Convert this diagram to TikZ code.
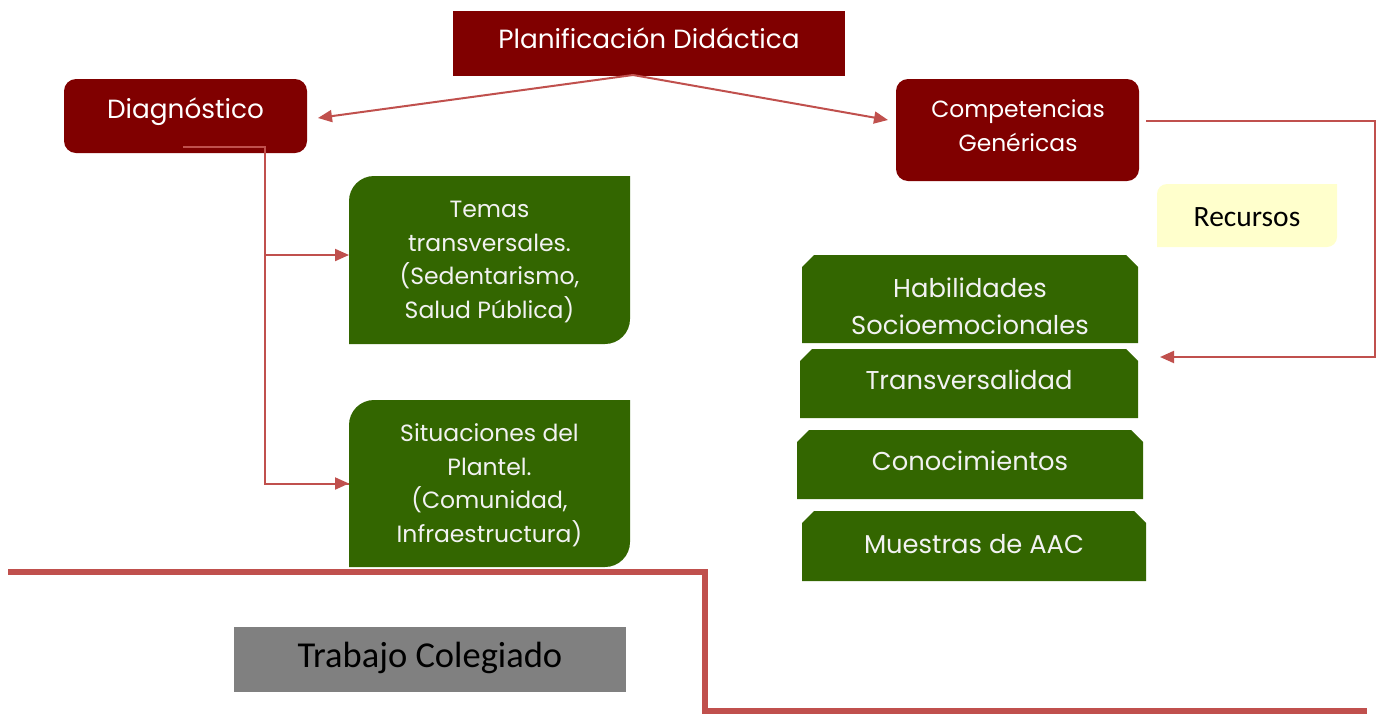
\documentclass[tikz,border=0pt]{standalone}
\usepackage{fontspec}
\setmainfont{Poppins}
\newfontfamily\calfont{Carlito}
\usetikzlibrary{arrows.meta,calc}
\definecolor{dkred}{HTML}{800000}
\definecolor{grn}{HTML}{336600}
\definecolor{lnred}{HTML}{C0504D}
\definecolor{recy}{HTML}{FFFFCC}
\definecolor{gry}{HTML}{808080}
\definecolor{gtxt}{HTML}{F2F2F2}
\tikzset{
  area/.style={inner sep=0pt, outer sep=0pt, draw=none},
  rbox/.style={area, fill=dkred},
  rtxt/.style={text=white, align=center, inner sep=0pt, font=\fontsize{26.3}{34}\selectfont},
  gtx/.style={text=gtxt, align=center, inner sep=0pt, font=\fontsize{25.8}{33.5}\selectfont},
  conn/.style={draw=lnred, line width=2pt},
  arr/.style={conn, -{Triangle[length=14pt,width=12pt]}},
}
\begin{document}
\begin{tikzpicture}[x=1pt,y=-1pt]
\useasboundingbox (0,0) rectangle (1381,713);

% red boxes
\node[rbox, minimum width=392, minimum height=65] (plan) at (649,43.5) {};
\node[rtxt] (planT) at (649,38) {Planificación Didáctica};
\node[rbox, rounded corners=12, minimum width=243, minimum height=74] (diag) at (185.5,116) {};
\node[rtxt] (diagT) at (185.5,112) {Diagnóstico};
\node[rbox, rounded corners=12, minimum width=243, minimum height=102] (comp) at (1017.5,130) {};
\node[rtxt, font=\fontsize{23.4}{34}\selectfont] (compT) at (1018,126) {Competencias\\Genéricas};

% left green boxes
\node[area, minimum width=281, minimum height=168] (temas) at (489.5,260) {};
\fill[grn] (349,344) -- (349,201) .. controls (349,187.2) and (360.2,176) .. (374,176)
  -- (630,176) -- (630,319) .. controls (630,332.8) and (618.8,344) .. (605,344) -- cycle;
\node[gtx, font=\fontsize{23.5}{33.5}\selectfont] (temasT) at (489.5,262) {Temas\\transversales.\\(Sedentarismo,\\Salud Pública)};

\node[area, minimum width=281, minimum height=167] (situ) at (489.5,483.5) {};
\fill[grn] (349,567) -- (349,425) .. controls (349,411.2) and (360.2,400) .. (374,400)
  -- (630,400) -- (630,542) .. controls (630,555.8) and (618.8,567) .. (605,567) -- cycle;
\node[gtx, font=\fontsize{23.5}{33.5}\selectfont] (situT) at (489.5,485) {Situaciones del\\Plantel.\\(Comunidad,\\Infraestructura)};

% right green boxes (snipped top corners)
\node[area, minimum width=336, minimum height=88] (hab) at (970,299) {};
\fill[grn] (802,343) -- (802,267) -- (814,255) -- (1126,255) -- (1138,267) -- (1138,343) -- cycle;
\node[gtx, font=\fontsize{25.8}{37}\selectfont] (habT) at (970,306.5) {Habilidades\\Socioemocionales};

\node[area, minimum width=338, minimum height=69] (trans) at (969,383.5) {};
\fill[grn] (800,418) -- (800,361) -- (812,349) -- (1126,349) -- (1138,361) -- (1138,418) -- cycle;
\node[gtx] (transT) at (969,380) {Transversalidad};

\node[area, minimum width=346, minimum height=69] (cono) at (970,464.5) {};
\fill[grn] (797,499) -- (797,442) -- (809,430) -- (1131,430) -- (1143,442) -- (1143,499) -- cycle;
\node[gtx] (conoT) at (970,461) {Conocimientos};

\node[area, minimum width=344, minimum height=70] (mues) at (974,546) {};
\fill[grn] (802,581) -- (802,523) -- (814,511) -- (1134,511) -- (1146,523) -- (1146,581) -- cycle;
\node[gtx] (muesT) at (974,544) {Muestras de AAC};

% Recursos
\node[area, minimum width=180, minimum height=63] (rec) at (1247,215.5) {};
\fill[recy] (1157,247) -- (1157,194) .. controls (1157,188.5) and (1161.5,184) .. (1167,184)
  -- (1337,184) -- (1337,237) .. controls (1337,242.5) and (1332.5,247) .. (1327,247) -- cycle;
\node[inner sep=0pt, font=\calfont\fontsize{29.5}{32}\selectfont] (recT) at (1247,217) {Recursos};

% Trabajo Colegiado
\node[area, fill=gry, minimum width=392, minimum height=65] (trab) at (430,659.5) {};
\node[inner sep=0pt, font=\calfont\fontsize{36.5}{40}\selectfont] (trabT) at (430,658) {Trabajo Colegiado};

% connectors
\coordinate (pOut) at (633,75);
\coordinate (diagIn) at ($(diag.east)+(11,2)$);
\coordinate (compIn) at ($(comp.west)+(-8,-10)$);
\draw[arr] (pOut) -- (diagIn);
\draw[arr] (pOut) -- (compIn);

\coordinate (dOut) at (183,147);
\coordinate (dBend) at (265,147);
\coordinate (tIn) at ($(temas.west)+(0,-5)$);
\draw[conn] (dOut) -- (dBend) |- (situ.west);
\draw[arr] (dBend |- situ.west) -- (situ.west);
\draw[arr] (dBend |- tIn) -- (tIn);

\coordinate (cOut) at (1146,121);
\coordinate (cIn) at (1160,357);
\draw[arr] (cOut) -- (1375,121) -- (1375,357) -- (cIn);

% thick divider
\coordinate (dv1) at (8,572);
\coordinate (dv2) at (1367,711);
\draw[draw=lnred, line width=6pt] (dv1) -- (705,572) -- (705,711) -- (dv2);
\end{tikzpicture}
\end{document}
